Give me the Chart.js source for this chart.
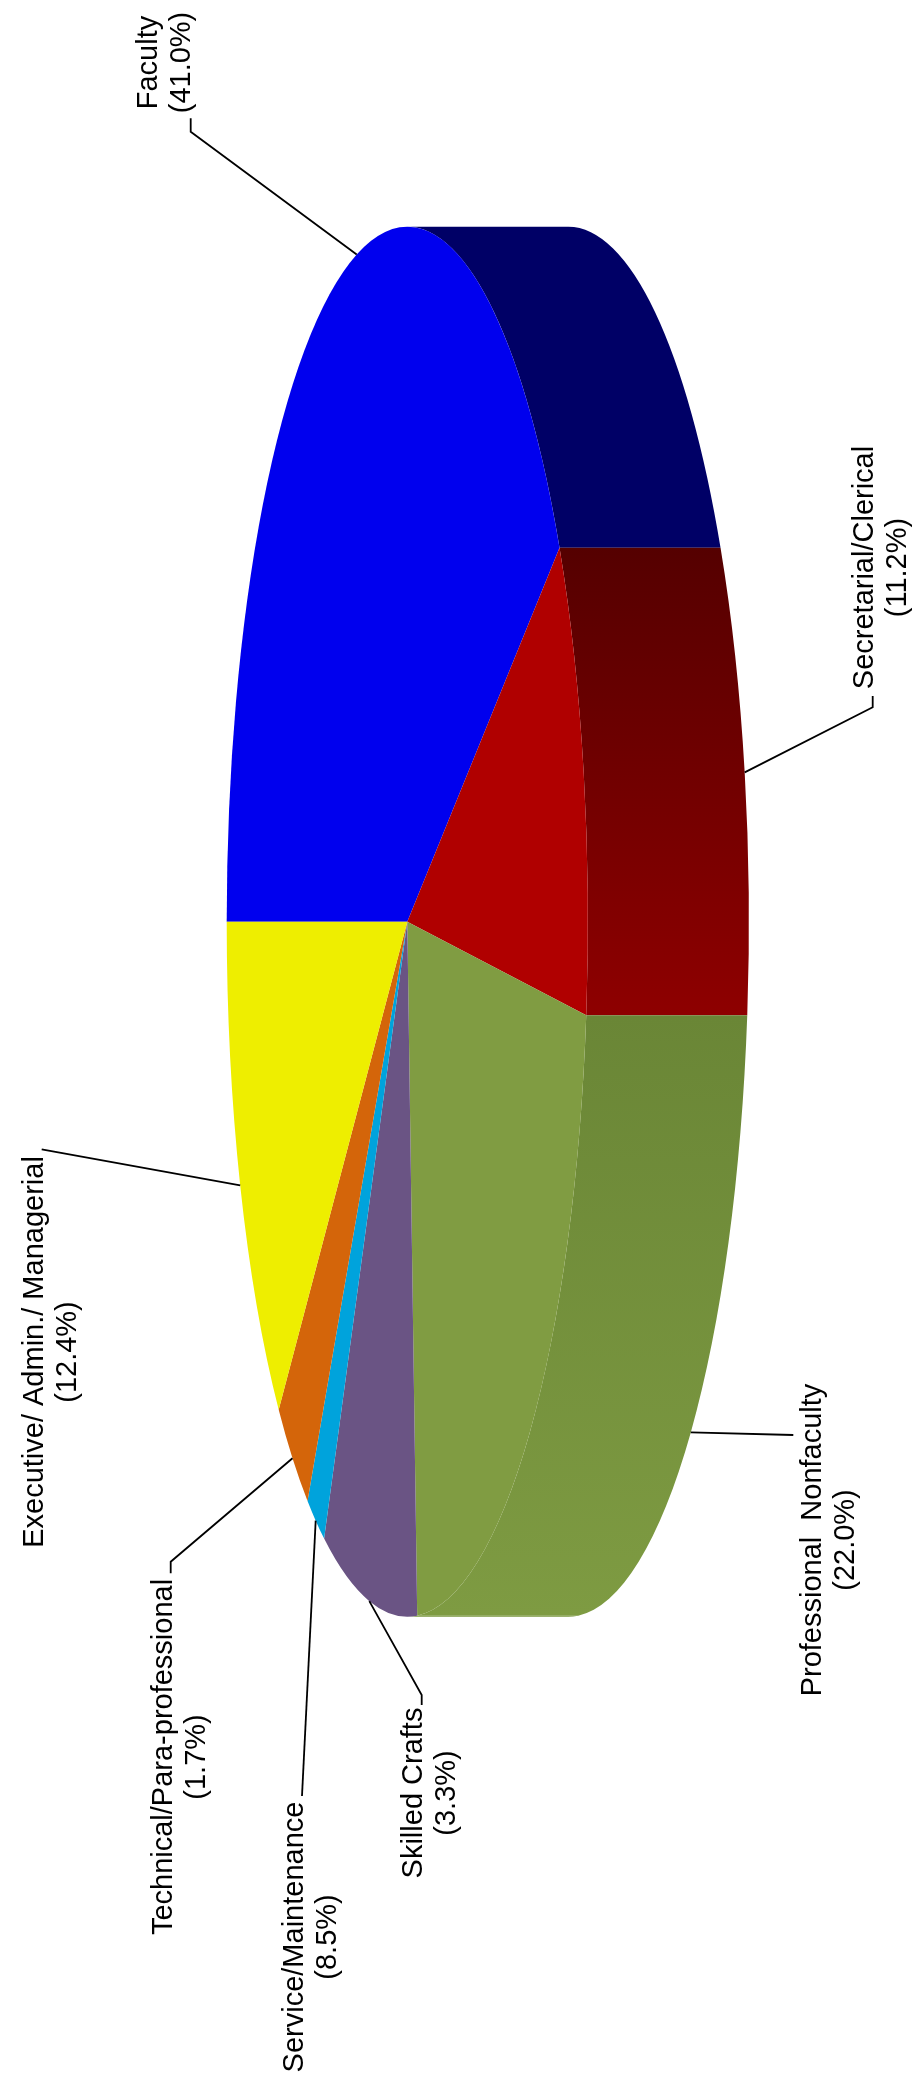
<!DOCTYPE html>
<html>
<head>
<meta charset="utf-8">
<style>
  html, body { margin: 0; padding: 0; background: #fff; }
  canvas { display: block; }
</style>
<script src="https://cdn.jsdelivr.net/npm/chart.js@4.4.1/dist/chart.umd.min.js"></script>
</head>
<body>
<canvas id="pie" width="914" height="2084"></canvas>
<script>
// slices, clockwise from the left edge of the (rotated) pie
const categories = ['Faculty', 'Secretarial/Clerical', 'Professional  Nonfaculty', 'Service/Maintenance',
  'Technical/Para-professional', 'Skilled Crafts', 'Executive/ Admin./ Managerial'];
const shares = [41.0, 11.2, 22.0, 8.5, 1.7, 3.3, 12.4];
const topColors = ['#0000ee', '#b00000', '#809c42', '#6a5484', '#00a3dc', '#d4650a', '#eeee00'];
const sideColors = [['#000066', '#000066'], ['#550000', '#8e0000'], ['#6a8636', '#7e9b42'],
  ['#7a9840', '#7a9840'], ['#008bbd', '#008bbd'], ['#b35507', '#b35507'], ['#c8c800', '#c8c800']];
// slice each label's leader line touches, as in the original drawing
const leaderTarget = [0, 1, 2, 4, 5, 3, 6];

// layout: ellipse of the top face, depth of the side
const G = { cx: 407.3, cy: 921.7, a: 180.6, b: 695, d: 161 };
// label placement: baseline x of first line, centre y, leader bend points
const labelPos = [[157, 62.5], [872.5, 567.5], [820.7, 1540], [303, 1937], [171.7, 1757], [421.7, 1793], [42.7, 1352]];
const leaderPts = [
  [[190.7, 131.7], [190.7, 118.3]],
  [[872.7, 707.3], [872.7, 696]],
  [[793.3, 1435]],
  [[302, 1796]],
  [[170.7, 1561.7], [170.7, 1573.3]],
  [[421.7, 1695], [421.7, 1705]],
  [[41.7, 1149.3]]
];
const LINE_GAP = 33;

const pie3d = {
  id: 'pie3d',
  beforeDatasetsDraw(chart) {
    const ctx = chart.ctx;
    const arcs = chart.getDatasetMeta(0).data;
    // visible side wall (right half of the ellipse)
    arcs.forEach((arc, i) => {
      const s = Math.max(arc.startAngle, -Math.PI / 2);
      const e = Math.min(arc.endAngle, Math.PI / 2);
      if (e <= s) return;
      const y1 = G.cy + G.b * Math.sin(s), y2 = G.cy + G.b * Math.sin(e);
      const grad = ctx.createLinearGradient(0, y1, 0, y2);
      grad.addColorStop(0, sideColors[i][0]);
      grad.addColorStop(1, sideColors[i][1]);
      ctx.beginPath();
      ctx.ellipse(G.cx, G.cy, G.a, G.b, 0, s, e);
      ctx.ellipse(G.cx + G.d, G.cy, G.a, G.b, 0, e, s, true);
      ctx.closePath();
      ctx.fillStyle = grad;
      ctx.fill();
    });
    // squash the library's round pie into the top face ellipse
    const a0 = arcs[0];
    ctx.save();
    ctx.translate(G.cx, G.cy);
    ctx.scale(G.a / a0.outerRadius, G.b / a0.outerRadius);
    ctx.translate(-a0.x, -a0.y);
  },
  afterDatasetsDraw(chart) {
    const ctx = chart.ctx;
    ctx.restore();
    const arcs = chart.getDatasetMeta(0).data;
    ctx.save();
    ctx.strokeStyle = '#000';
    ctx.lineWidth = 1.8;
    ctx.fillStyle = '#000';
    ctx.font = '29px "Liberation Sans", Arial, sans-serif';
    ctx.textAlign = 'center';
    ctx.textBaseline = 'alphabetic';
    categories.forEach((name, i) => {
      const arc = arcs[leaderTarget[i]];
      const mid = (arc.startAngle + arc.endAngle) / 2;
      const px = G.cx + G.a * Math.cos(mid) + (Math.cos(mid) > 0 ? G.d : 0);
      const py = G.cy + G.b * Math.sin(mid);
      ctx.beginPath();
      ctx.moveTo(px, py);
      leaderPts[i].forEach(p => ctx.lineTo(p[0], p[1]));
      ctx.stroke();

      ctx.save();
      ctx.translate(labelPos[i][0], labelPos[i][1]);
      ctx.rotate(-Math.PI / 2);
      ctx.fillText(name, 0, 0);
      ctx.fillText('(' + shares[i].toFixed(1) + '%)', 0, LINE_GAP);
      ctx.restore();
    });
    ctx.restore();
  }
};

new Chart(document.getElementById('pie'), {
  type: 'pie',
  data: {
    labels: categories,
    datasets: [{
      data: shares,
      backgroundColor: topColors,
      borderWidth: 0
    }]
  },
  options: {
    responsive: false,
    animation: false,
    rotation: -90,
    events: [],
    layout: { padding: 0 },
    plugins: {
      legend: { display: false },
      tooltip: { enabled: false }
    }
  },
  plugins: [pie3d]
});
</script>
</body>
</html>
